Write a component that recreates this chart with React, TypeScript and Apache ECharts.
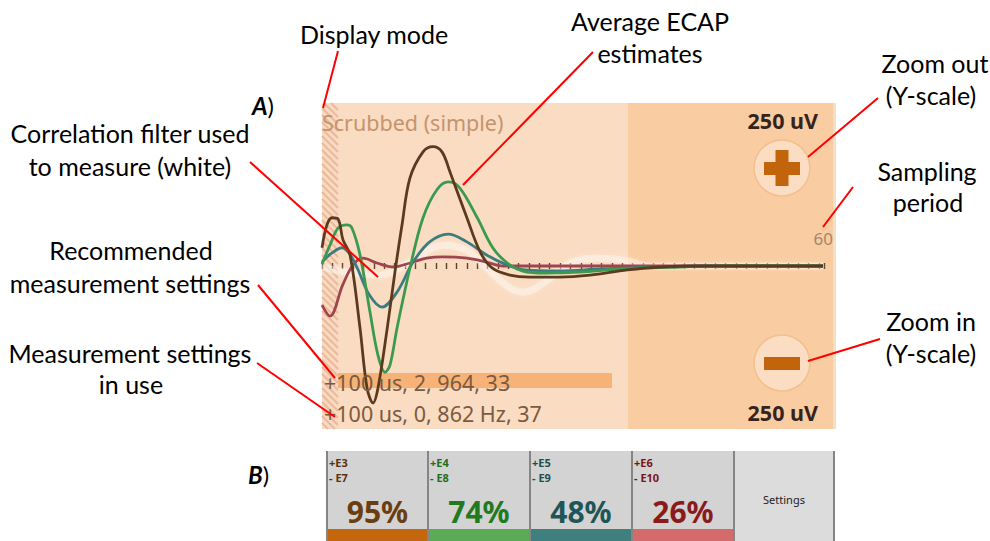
import React, { useEffect, useRef } from "react";
import * as echarts from "echarts";

// ---- Data (x in samples, y in uV) ----
const filterWhite: [number, number][] = [
  [0, -1.5], [2.2, -9], [5.6, -14], [8.5, 6], [11.7, 32], [14.0, 24], [15.9, -3],
  [18.2, -34], [19.6, -40], [21.6, -24], [24.0, 5], [26.4, 12], [29.3, 9], [31.7, 0], [48.4, 0],
];
const ecapRed: [number, number][] = [
  [0, -60], [0.77, -77], [2.0, -29], [3.0, 1.5], [3.96, 12], [5.3, 4.6], [6.9, -1.5],
  [8.5, 4.6], [10.1, 12], [11.7, 14], [14.0, 12], [15.9, 6], [17.5, 0], [48.4, 0],
];
const ecapTeal: [number, number][] = [
  [0, 6], [0.97, 20], [1.93, 28], [2.7, 18], [3.4, -3], [4.6, -45], [5.8, -63],
  [7.25, -40], [8.8, 6], [10.4, 37], [12.2, 49], [14.0, 37], [15.9, 17], [17.9, 1.5],
  [19.6, -6], [23.0, -7.7], [26.9, -4.6], [32.7, -1.5], [36.5, 0], [48.4, 0],
];
const ecapGreen: [number, number][] = [
  [0, 3], [0.77, 32], [1.55, 58], [2.42, 63], [2.9, 58], [3.67, 17], [4.64, -71],
  [5.41, -137], [6.09, -163], [6.57, -152], [7.25, -95], [8.5, -3], [9.76, 74],
  [11.1, 117], [12.2, 129], [13.3, 120], [15.0, 74], [16.5, 28], [17.9, 4.6],
  [19.4, -7.7], [21.6, -10.7], [24.9, -9.2], [28.8, -4.6], [34.6, -1.5], [38.5, 0], [48.4, 0],
];
const ecapBrown: [number, number][] = [
  [0, 28], [0.48, 63], [0.97, 74], [1.55, 72], [2.03, 40], [2.71, 17], [3.67, -95],
  [4.35, -187], [4.93, -210], [5.41, -187], [6.28, -98], [7.05, -9], [7.73, 63],
  [8.5, 135], [9.76, 175], [10.72, 183], [11.59, 175], [12.37, 144], [14.0, 74],
  [15.27, 22], [16.43, -3], [18.16, -14], [20.1, -17], [23.0, -17], [25.9, -14],
  [29.5, -6], [32.7, -1.5], [36.5, 0], [48.4, 0],
];

const recommended = "+100 us, 2, 964, 33";
const inUse = "+100 us, 0, 862 Hz, 37";
const scaleLabel = "250 uV";
const samplingPeriod = "60";

const channelPos = ["+E3", "+E4", "+E5", "+E6"];
const channelNeg = ["- E7", "- E8", "- E9", "- E10"];
const channelPct = [95, 74, 48, 26];
const channelText = ["#6B3E10", "#217A1E", "#1F5557", "#8B1A1A"];
const channelLabel = ["#5A3010", "#1E6E1E", "#1D5050", "#7A1515"];
const channelStrip = ["#C4660C", "#5BAA55", "#3F7F7D", "#D56A6A"];

const ANN = "Lato, 'Open Sans', sans-serif";
const UI = "'Noto Sans', 'Open Sans', sans-serif";

function txt(text: string, x: number, baseline: number, fs: number, o: any = {}) {
  return {
    type: "text",
    z: o.z ?? 20,
    style: {
      text,
      x,
      y: baseline - 0.36 * fs,
      fontSize: fs,
      fontFamily: o.family ?? ANN,
      fontWeight: o.weight ?? "normal",
      fill: o.fill ?? "#000",
      align: o.align ?? "center",
      verticalAlign: "middle",
      lineHeight: o.lineHeight,
    },
  };
}
function redLine(x1: number, y1: number, x2: number, y2: number) {
  return { type: "line", z: 30, shape: { x1, y1, x2, y2 }, style: { stroke: "#FF0000", lineWidth: 2 } };
}

export default function App() {
  const ref = useRef<HTMLDivElement>(null);
  useEffect(() => {
    if (!ref.current) return;
    const chart = echarts.init(ref.current, undefined, { renderer: "svg" });
    const g: any[] = [];
    const top = 103, bot = 429, left = 322;
    // panel A backgrounds
    g.push({ type: "rect", z: 0, shape: { x: left, y: top, width: 306, height: bot - top }, style: { fill: "#FADCC2" } });
    g.push({ type: "rect", z: 0, shape: { x: 628, y: top, width: 205, height: bot - top }, style: { fill: "#F9CCA2" } });
    g.push({ type: "rect", z: 0, shape: { x: 833, y: top, width: 3, height: bot - top }, style: { fill: "#EDE2C6" } });
    // hatch strip
    g.push({ type: "rect", z: 0, shape: { x: left, y: top, width: 16, height: bot - top }, style: { fill: "#F8DAC2" } });
    for (let y0 = top - 16; y0 < bot; y0 += 7) {
      let xa = left, ya = y0, xb = left + 16, yb = y0 + 16;
      if (ya < top) { xa += top - ya; ya = top; }
      if (yb > bot) { xb -= yb - bot; yb = bot; }
      if (xb > xa) g.push({ type: "line", z: 1, shape: { x1: xa, y1: ya, x2: xb, y2: yb }, style: { stroke: "#EBB99B", lineWidth: 2 } });
    }
    // recommended highlight bar
    g.push({ type: "rect", z: 1, shape: { x: 338, y: 373, width: 274, height: 15 }, style: { fill: "#F6B277" } });
    // overlay texts
    g.push(txt("Scrubbed (simple)", 322, 130, 21.5, { family: UI, fill: "#C4946E", align: "left", z: 10 }));
    g.push(txt(recommended, 324, 390, 21.5, { family: UI, fill: "#7C5A40", align: "left", z: 10 }));
    g.push(txt(inUse, 324, 421, 21.5, { family: UI, fill: "#7C5A40", align: "left", z: 10 }));
    g.push(txt(scaleLabel, 818, 128, 21.5, { family: UI, weight: "bold", fill: "#36241A", align: "right", z: 10 }));
    g.push(txt(scaleLabel, 818, 420, 21.5, { family: UI, weight: "bold", fill: "#36241A", align: "right", z: 10 }));
    g.push(txt(samplingPeriod, 833, 245, 17, { family: UI, fill: "#A58868", align: "right", z: 10 }));
    // buttons
    for (const cy of [168, 363]) {
      g.push({ type: "circle", z: 10, shape: { cx: 782, cy, r: 28 }, style: { fill: "#FBDDC3", stroke: "#F3BF8E", lineWidth: 1.5 } });
      g.push({ type: "rect", z: 11, shape: { x: 764, y: cy - 6, width: 36, height: 13 }, style: { fill: "#C2640C" } });
    }
    g.push({ type: "rect", z: 11, shape: { x: 775.5, y: 150, width: 13, height: 36 }, style: { fill: "#C2640C" } });

    // panel labels
    for (const [lab, x, b] of [["A", 252, 114], ["B", 248, 483]] as [string, number, number][]) {
      g.push({
        type: "text", z: 20,
        style: {
          text: "{a|" + lab + "}{b|)}", x, y: b - 0.36 * 24, align: "left", verticalAlign: "middle",
          rich: {
            a: { fontFamily: ANN, fontSize: 24, fontWeight: "bold", fontStyle: "italic", fill: "#000" },
            b: { fontFamily: ANN, fontSize: 24, fill: "#000" },
          },
        },
      });
    }

    // panel B
    const bx = [327, 428, 530, 632, 734];
    const bTop = 451, bBot = 541;
    for (let i = 0; i < 4; i++) {
      const x0 = bx[i], w = bx[i + 1] - bx[i];
      g.push({ type: "rect", z: 1, shape: { x: x0, y: bTop, width: w, height: bBot - bTop }, style: { fill: "#D3D3D3" } });
      g.push({ type: "rect", z: 2, shape: { x: x0, y: 529, width: w, height: bBot - 529 }, style: { fill: channelStrip[i] } });
      g.push(txt(channelPos[i], x0 + 2, 466, 11, { family: UI, weight: "bold", fill: channelLabel[i], align: "left", z: 3, lineHeight: 12 }));
      g.push(txt(channelNeg[i], x0 + 2, 481.5, 11, { family: UI, weight: "bold", fill: channelLabel[i], align: "left", z: 3, lineHeight: 12 }));
      g.push(txt(channelPct[i] + "%", x0 + w / 2, 522, 30, { family: UI, weight: "bold", fill: channelText[i], align: "center", z: 3 }));
    }
    g.push({ type: "rect", z: 1, shape: { x: 734, y: bTop, width: 100, height: bBot - bTop }, style: { fill: "#DCDCDC" } });
    g.push(txt("Settings", 784, 503, 11, { family: UI, fill: "#222", align: "center", z: 3 }));
    for (const x of [327, 428, 530, 632, 734, 834]) {
      g.push({ type: "rect", z: 4, shape: { x: x - 1, y: bTop, width: 2, height: bBot - bTop }, style: { fill: "#858585" } });
    }

    // annotations
    const AF = 25;
    g.push(txt("Display mode", 374, 43, AF));
    g.push(txt("Average ECAP", 650, 30, AF));
    g.push(txt("estimates", 650, 62, AF));
    g.push(txt("Zoom out", 935, 72, AF));
    g.push(txt("(Y-scale)", 931, 104, AF));
    g.push(txt("Sampling", 927, 180, AF));
    g.push(txt("period", 928, 211, AF));
    g.push(txt("Zoom in", 931, 330, AF));
    g.push(txt("(Y-scale)", 931, 362, AF));
    g.push(txt("Correlation filter used", 130, 142, AF));
    g.push(txt("to measure (white)", 130, 175, AF));
    g.push(txt("Recommended", 131, 259, AF));
    g.push(txt("measurement settings", 130, 292, AF));
    g.push(txt("Measurement settings", 130, 362, AF));
    g.push(txt("in use", 131, 393, AF));

    g.push(redLine(338, 51, 323, 108));
    g.push(redLine(593, 52, 463, 185));
    g.push(redLine(878, 98, 808, 157));
    g.push(redLine(853, 187, 823, 227));
    g.push(redLine(880, 339, 808, 361));
    g.push(redLine(250, 162, 378, 277));
    g.push(redLine(258, 285, 335, 378));
    g.push(redLine(257, 363, 335, 417));

    const mk = (data: [number, number][], color: string, width: number, z: number, extra: any = {}) => ({
      type: "line", data, showSymbol: false, smooth: 0.35, z, silent: true,
      lineStyle: { color, width, ...extra },
    });

    chart.setOption({
      animation: false,
      backgroundColor: "#ffffff",
      grid: { left: 322, top: 103, width: 502, height: 326, show: false },
      xAxis: {
        type: "value", min: 0, max: 48.5, interval: 1, offset: -160, z: 3,
        axisLine: { show: false, onZero: false },
        axisTick: { show: true, inside: true, length: 6, lineStyle: { color: "#5E3F2A", width: 1.4 } },
        axisLabel: { show: false }, splitLine: { show: false },
      },
      yAxis: { type: "value", min: -250, max: 250, show: false },
      series: [
        mk(filterWhite, "rgba(255,255,255,0.35)", 7, 4, { shadowBlur: 5, shadowColor: "rgba(255,255,255,0.6)" }),
        mk(ecapRed, "#A0444E", 2.8, 5),
        mk(ecapTeal, "#3C7C80", 2.8, 6),
        mk(ecapGreen, "#3C9A4E", 2.8, 7),
        mk(ecapBrown, "#5C3A1E", 2.8, 8),
      ],
      graphic: { elements: g },
    });
    return () => chart.dispose();
  }, []);
  return <div ref={ref} style={{ position: "fixed", left: 0, top: 0, width: 990, height: 541 }} />;
}
